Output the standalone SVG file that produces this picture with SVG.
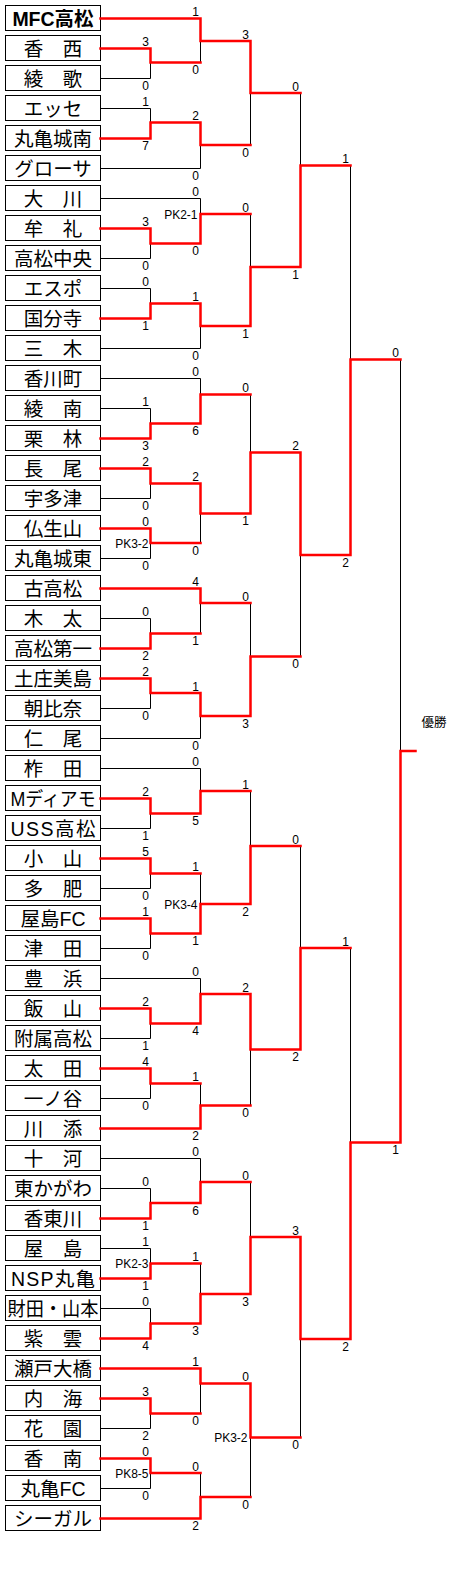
<svg xmlns="http://www.w3.org/2000/svg" width="450" height="1570" viewBox="0 0 450 1570">
<style>
.box{fill:#fff;stroke:#000;stroke-width:1}
.tn{font-family:"Liberation Sans","Noto Sans CJK JP",sans-serif;font-size:19.5px;text-anchor:middle;fill:#000}
.k{fill:none;stroke:#000;stroke-width:1}
.r{fill:none;stroke:#f00;stroke-width:2.5;stroke-linejoin:miter;stroke-linecap:square}
.s{font-family:"Liberation Sans",sans-serif;font-size:12px;text-anchor:middle;fill:#000}
.pk{font-family:"Liberation Sans",sans-serif;font-size:12px;text-anchor:end;fill:#000}
</style>
<rect width="450" height="1570" fill="#fff"/>
<g id="teams">
<g id="t0"><rect class="box" x="5.5" y="5.5" width="95" height="25"/><text class="tn" x="53" y="25.5" font-weight="bold">MFC高松</text></g>
<g id="t1"><rect class="box" x="5.5" y="35.5" width="95" height="25"/><text class="tn" x="53" y="55.5">香　西</text></g>
<g id="t2"><rect class="box" x="5.5" y="65.5" width="95" height="25"/><text class="tn" x="53" y="85.5">綾　歌</text></g>
<g id="t3"><rect class="box" x="5.5" y="95.5" width="95" height="25"/><text class="tn" x="53" y="115.5">エッセ</text></g>
<g id="t4"><rect class="box" x="5.5" y="125.5" width="95" height="25"/><text class="tn" x="53" y="145.5">丸亀城南</text></g>
<g id="t5"><rect class="box" x="5.5" y="155.5" width="95" height="25"/><text class="tn" x="53" y="175.5">グローサ</text></g>
<g id="t6"><rect class="box" x="5.5" y="185.5" width="95" height="25"/><text class="tn" x="53" y="205.5">大　川</text></g>
<g id="t7"><rect class="box" x="5.5" y="215.5" width="95" height="25"/><text class="tn" x="53" y="235.5">牟　礼</text></g>
<g id="t8"><rect class="box" x="5.5" y="245.5" width="95" height="25"/><text class="tn" x="53" y="265.5">高松中央</text></g>
<g id="t9"><rect class="box" x="5.5" y="275.5" width="95" height="25"/><text class="tn" x="53" y="295.5">エスポ</text></g>
<g id="t10"><rect class="box" x="5.5" y="305.5" width="95" height="25"/><text class="tn" x="53" y="325.5">国分寺</text></g>
<g id="t11"><rect class="box" x="5.5" y="335.5" width="95" height="25"/><text class="tn" x="53" y="355.5">三　木</text></g>
<g id="t12"><rect class="box" x="5.5" y="365.5" width="95" height="25"/><text class="tn" x="53" y="385.5">香川町</text></g>
<g id="t13"><rect class="box" x="5.5" y="395.5" width="95" height="25"/><text class="tn" x="53" y="415.5">綾　南</text></g>
<g id="t14"><rect class="box" x="5.5" y="425.5" width="95" height="25"/><text class="tn" x="53" y="445.5">栗　林</text></g>
<g id="t15"><rect class="box" x="5.5" y="455.5" width="95" height="25"/><text class="tn" x="53" y="475.5">長　尾</text></g>
<g id="t16"><rect class="box" x="5.5" y="485.5" width="95" height="25"/><text class="tn" x="53" y="505.5">宇多津</text></g>
<g id="t17"><rect class="box" x="5.5" y="515.5" width="95" height="25"/><text class="tn" x="53" y="535.5">仏生山</text></g>
<g id="t18"><rect class="box" x="5.5" y="545.5" width="95" height="25"/><text class="tn" x="53" y="565.5">丸亀城東</text></g>
<g id="t19"><rect class="box" x="5.5" y="575.5" width="95" height="25"/><text class="tn" x="53" y="595.5">古高松</text></g>
<g id="t20"><rect class="box" x="5.5" y="605.5" width="95" height="25"/><text class="tn" x="53" y="625.5">木　太</text></g>
<g id="t21"><rect class="box" x="5.5" y="635.5" width="95" height="25"/><text class="tn" x="53" y="655.5">高松第一</text></g>
<g id="t22"><rect class="box" x="5.5" y="665.5" width="95" height="25"/><text class="tn" x="53" y="685.5">土庄美島</text></g>
<g id="t23"><rect class="box" x="5.5" y="695.5" width="95" height="25"/><text class="tn" x="53" y="715.5">朝比奈</text></g>
<g id="t24"><rect class="box" x="5.5" y="725.5" width="95" height="25"/><text class="tn" x="53" y="745.5">仁　尾</text></g>
<g id="t25"><rect class="box" x="5.5" y="755.5" width="95" height="25"/><text class="tn" x="53" y="775.5">柞　田</text></g>
<g id="t26"><rect class="box" x="5.5" y="785.5" width="95" height="25"/><text class="tn" x="53" y="805.5" textLength="85" lengthAdjust="spacingAndGlyphs">Mディアモ</text></g>
<g id="t27"><rect class="box" x="5.5" y="815.5" width="95" height="25"/><text class="tn" x="53" y="835.5" textLength="85" lengthAdjust="spacing">USS高松</text></g>
<g id="t28"><rect class="box" x="5.5" y="845.5" width="95" height="25"/><text class="tn" x="53" y="865.5">小　山</text></g>
<g id="t29"><rect class="box" x="5.5" y="875.5" width="95" height="25"/><text class="tn" x="53" y="895.5">多　肥</text></g>
<g id="t30"><rect class="box" x="5.5" y="905.5" width="95" height="25"/><text class="tn" x="53" y="925.5">屋島FC</text></g>
<g id="t31"><rect class="box" x="5.5" y="935.5" width="95" height="25"/><text class="tn" x="53" y="955.5">津　田</text></g>
<g id="t32"><rect class="box" x="5.5" y="965.5" width="95" height="25"/><text class="tn" x="53" y="985.5">豊　浜</text></g>
<g id="t33"><rect class="box" x="5.5" y="995.5" width="95" height="25"/><text class="tn" x="53" y="1015.5">飯　山</text></g>
<g id="t34"><rect class="box" x="5.5" y="1025.5" width="95" height="25"/><text class="tn" x="53" y="1045.5">附属高松</text></g>
<g id="t35"><rect class="box" x="5.5" y="1055.5" width="95" height="25"/><text class="tn" x="53" y="1075.5">太　田</text></g>
<g id="t36"><rect class="box" x="5.5" y="1085.5" width="95" height="25"/><text class="tn" x="53" y="1105.5">一ノ谷</text></g>
<g id="t37"><rect class="box" x="5.5" y="1115.5" width="95" height="25"/><text class="tn" x="53" y="1135.5">川　添</text></g>
<g id="t38"><rect class="box" x="5.5" y="1145.5" width="95" height="25"/><text class="tn" x="53" y="1165.5">十　河</text></g>
<g id="t39"><rect class="box" x="5.5" y="1175.5" width="95" height="25"/><text class="tn" x="53" y="1195.5">東かがわ</text></g>
<g id="t40"><rect class="box" x="5.5" y="1205.5" width="95" height="25"/><text class="tn" x="53" y="1225.5">香東川</text></g>
<g id="t41"><rect class="box" x="5.5" y="1235.5" width="95" height="25"/><text class="tn" x="53" y="1255.5">屋　島</text></g>
<g id="t42"><rect class="box" x="5.5" y="1265.5" width="95" height="25"/><text class="tn" x="53" y="1285.5" textLength="84" lengthAdjust="spacing">NSP丸亀</text></g>
<g id="t43"><rect class="box" x="5.5" y="1295.5" width="95" height="25"/><text class="tn" x="53" y="1315.5" textLength="91" lengthAdjust="spacingAndGlyphs">財田・山本</text></g>
<g id="t44"><rect class="box" x="5.5" y="1325.5" width="95" height="25"/><text class="tn" x="53" y="1345.5">紫　雲</text></g>
<g id="t45"><rect class="box" x="5.5" y="1355.5" width="95" height="25"/><text class="tn" x="53" y="1375.5">瀬戸大橋</text></g>
<g id="t46"><rect class="box" x="5.5" y="1385.5" width="95" height="25"/><text class="tn" x="53" y="1405.5">内　海</text></g>
<g id="t47"><rect class="box" x="5.5" y="1415.5" width="95" height="25"/><text class="tn" x="53" y="1435.5">花　園</text></g>
<g id="t48"><rect class="box" x="5.5" y="1445.5" width="95" height="25"/><text class="tn" x="53" y="1465.5">香　南</text></g>
<g id="t49"><rect class="box" x="5.5" y="1475.5" width="95" height="25"/><text class="tn" x="53" y="1495.5">丸亀FC</text></g>
<g id="t50"><rect class="box" x="5.5" y="1505.5" width="95" height="25"/><text class="tn" x="53" y="1525.5">シーガル</text></g>
</g>
<g id="connectors">
<path class="k" d="M100.5 78.5H150.5V62.5M100.5 108.5H150.5V122.5M100.5 168.5H200.5V145M100.5 198.5H200.5V214M100.5 258.5H150.5V243.5M100.5 288.5H150.5V303.5M100.5 348.5H200.5V326M100.5 378.5H200.5V394.5M100.5 408.5H150.5V423.5M100.5 498.5H150.5V483.5M100.5 558.5H150.5V543M100.5 618.5H150.5V633.5M100.5 708.5H150.5V693M100.5 738.5H200.5V716M100.5 768.5H200.5V791M100.5 828.5H150.5V813.5M100.5 888.5H150.5V873.5M100.5 948.5H150.5V933.5M100.5 978.5H200.5V994M100.5 1038.5H150.5V1023.5M100.5 1098.5H150.5V1083.5M100.5 1158.5H200.5V1182M100.5 1188.5H150.5V1203M100.5 1248.5H150.5V1263.5M100.5 1308.5H150.5V1323.5M100.5 1428.5H150.5V1413.5M100.5 1488.5H150.5V1473"/>
<path class="k" d="M200.5 41V62.5M200.5 513.5V543M200.5 603V633.5M200.5 873.5V904M200.5 1083.5V1105.5M200.5 1263.5V1294M200.5 1383.5V1413.5M200.5 1473V1497M250.5 93V145M250.5 214V267M250.5 394.5V452.5M250.5 603V656.5M250.5 791V846M250.5 1049.5V1105.5M250.5 1182V1237M250.5 1437.5V1497M300.5 93V165.5M300.5 555V656.5M300.5 846V948M300.5 1339V1437.5M350.5 165.5V359.5M350.5 948V1142.5M400.5 359.5V751"/>
<path class="r" d="M100.5 18.5H200.5V41H250.5V93H300.5"/>
<path class="r" d="M100.5 48.5H150.5V62.5H200.5"/>
<path class="r" d="M100.5 138.5H150.5V122.5H200.5V145H250.5"/>
<path class="r" d="M100.5 228.5H150.5V243.5H200.5V214H250.5"/>
<path class="r" d="M100.5 318.5H150.5V303.5H200.5V326H250.5V267H300.5V165.5H350.5"/>
<path class="r" d="M100.5 438.5H150.5V423.5H200.5V394.5H250.5"/>
<path class="r" d="M100.5 468.5H150.5V483.5H200.5V513.5H250.5V452.5H300.5V555H350.5V359.5H400.5"/>
<path class="r" d="M100.5 528.5H150.5V543H200.5"/>
<path class="r" d="M100.5 588.5H200.5V603H250.5"/>
<path class="r" d="M100.5 648.5H150.5V633.5H200.5"/>
<path class="r" d="M100.5 678.5H150.5V693H200.5V716H250.5V656.5H300.5"/>
<path class="r" d="M100.5 798.5H150.5V813.5H200.5V791H250.5"/>
<path class="r" d="M100.5 858.5H150.5V873.5H200.5"/>
<path class="r" d="M100.5 918.5H150.5V933.5H200.5V904H250.5V846H300.5"/>
<path class="r" d="M100.5 1008.5H150.5V1023.5H200.5V994H250.5V1049.5H300.5V948H350.5"/>
<path class="r" d="M100.5 1068.5H150.5V1083.5H200.5"/>
<path class="r" d="M100.5 1128.5H200.5V1105.5H250.5"/>
<path class="r" d="M100.5 1218.5H150.5V1203H200.5V1182H250.5"/>
<path class="r" d="M100.5 1278.5H150.5V1263.5H200.5"/>
<path class="r" d="M100.5 1338.5H150.5V1323.5H200.5V1294H250.5V1237H300.5V1339H350.5V1142.5H400.5V751H415.5"/>
<path class="r" d="M100.5 1368.5H200.5V1383.5H250.5V1437.5H300.5"/>
<path class="r" d="M100.5 1398.5H150.5V1413.5H200.5"/>
<path class="r" d="M100.5 1458.5H150.5V1473H200.5"/>
<path class="r" d="M100.5 1518.5H200.5V1497H250.5"/>
</g>
<g id="scores">
<text class="s" x="145.5" y="46">3</text><text class="s" x="145.5" y="90">0</text>
<text class="s" x="145.5" y="106">1</text><text class="s" x="145.5" y="150">7</text>
<text class="s" x="145.5" y="226">3</text><text class="s" x="145.5" y="270">0</text>
<text class="s" x="145.5" y="286">0</text><text class="s" x="145.5" y="330">1</text>
<text class="s" x="145.5" y="406">1</text><text class="s" x="145.5" y="450">3</text>
<text class="s" x="145.5" y="466">2</text><text class="s" x="145.5" y="510">0</text>
<text class="s" x="145.5" y="526">0</text><text class="s" x="145.5" y="570">0</text>
<text class="s" x="145.5" y="616">0</text><text class="s" x="145.5" y="660">2</text>
<text class="s" x="145.5" y="676">2</text><text class="s" x="145.5" y="720">0</text>
<text class="s" x="145.5" y="796">2</text><text class="s" x="145.5" y="840">1</text>
<text class="s" x="145.5" y="856">5</text><text class="s" x="145.5" y="900">0</text>
<text class="s" x="145.5" y="916">1</text><text class="s" x="145.5" y="960">0</text>
<text class="s" x="145.5" y="1006">2</text><text class="s" x="145.5" y="1050">1</text>
<text class="s" x="145.5" y="1066">4</text><text class="s" x="145.5" y="1110">0</text>
<text class="s" x="145.5" y="1186">0</text><text class="s" x="145.5" y="1230">1</text>
<text class="s" x="145.5" y="1246">1</text><text class="s" x="145.5" y="1290">1</text>
<text class="s" x="145.5" y="1306">0</text><text class="s" x="145.5" y="1350">4</text>
<text class="s" x="145.5" y="1396">3</text><text class="s" x="145.5" y="1440">2</text>
<text class="s" x="145.5" y="1456">0</text><text class="s" x="145.5" y="1500">0</text>
<text class="s" x="195.5" y="16">1</text><text class="s" x="195.5" y="74">0</text>
<text class="s" x="195.5" y="120">2</text><text class="s" x="195.5" y="180">0</text>
<text class="s" x="195.5" y="196">0</text><text class="s" x="195.5" y="255">0</text>
<text class="s" x="195.5" y="301">1</text><text class="s" x="195.5" y="360">0</text>
<text class="s" x="195.5" y="376">0</text><text class="s" x="195.5" y="435">6</text>
<text class="s" x="195.5" y="481">2</text><text class="s" x="195.5" y="554.5">0</text>
<text class="s" x="195.5" y="586">4</text><text class="s" x="195.5" y="645">1</text>
<text class="s" x="195.5" y="690.5">1</text><text class="s" x="195.5" y="750">0</text>
<text class="s" x="195.5" y="766">0</text><text class="s" x="195.5" y="825">5</text>
<text class="s" x="195.5" y="871">1</text><text class="s" x="195.5" y="945">1</text>
<text class="s" x="195.5" y="976">0</text><text class="s" x="195.5" y="1035">4</text>
<text class="s" x="195.5" y="1081">1</text><text class="s" x="195.5" y="1140">2</text>
<text class="s" x="195.5" y="1156">0</text><text class="s" x="195.5" y="1214.5">6</text>
<text class="s" x="195.5" y="1261">1</text><text class="s" x="195.5" y="1335">3</text>
<text class="s" x="195.5" y="1366">1</text><text class="s" x="195.5" y="1425">0</text>
<text class="s" x="195.5" y="1470.5">0</text><text class="s" x="195.5" y="1530">2</text>
<text class="s" x="245.5" y="38.5">3</text><text class="s" x="245.5" y="156.5">0</text>
<text class="s" x="245.5" y="211.5">0</text><text class="s" x="245.5" y="337.5">1</text>
<text class="s" x="245.5" y="392">0</text><text class="s" x="245.5" y="525">1</text>
<text class="s" x="245.5" y="600.5">0</text><text class="s" x="245.5" y="727.5">3</text>
<text class="s" x="245.5" y="788.5">1</text><text class="s" x="245.5" y="915.5">2</text>
<text class="s" x="245.5" y="991.5">2</text><text class="s" x="245.5" y="1117">0</text>
<text class="s" x="245.5" y="1179.5">0</text><text class="s" x="245.5" y="1305.5">3</text>
<text class="s" x="245.5" y="1381">0</text><text class="s" x="245.5" y="1508.5">0</text>
<text class="s" x="295.5" y="90.5">0</text><text class="s" x="295.5" y="278.5">1</text>
<text class="s" x="295.5" y="450">2</text><text class="s" x="295.5" y="668">0</text>
<text class="s" x="295.5" y="843.5">0</text><text class="s" x="295.5" y="1061">2</text>
<text class="s" x="295.5" y="1234.5">3</text><text class="s" x="295.5" y="1449">0</text>
<text class="s" x="345.5" y="163">1</text><text class="s" x="345.5" y="566.5">2</text>
<text class="s" x="345.5" y="945.5">1</text><text class="s" x="345.5" y="1350.5">2</text>
<text class="s" x="395.5" y="357">0</text><text class="s" x="395.5" y="1154">1</text>
</g>
<g id="pk">
<text class="pk" x="197.5" y="219">PK2-1</text>
<text class="pk" x="148.5" y="548">PK3-2</text>
<text class="pk" x="197.5" y="909">PK3-4</text>
<text class="pk" x="148.5" y="1268">PK2-3</text>
<text class="pk" x="148.5" y="1478">PK8-5</text>
<text class="pk" x="247.5" y="1442">PK3-2</text>
</g>
<g id="champion"><text x="421.5" y="727" font-family="'Noto Sans CJK JP',sans-serif" font-size="12.5px" fill="#000">優勝</text></g>
</svg>
